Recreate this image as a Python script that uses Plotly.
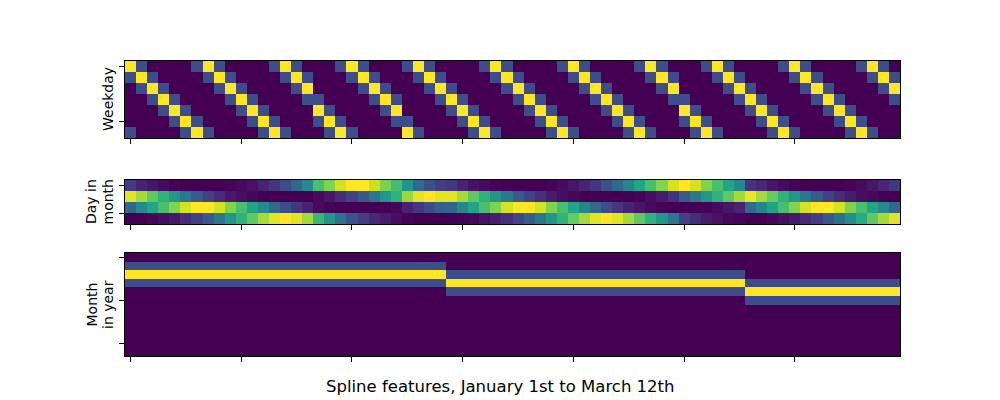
import plotly.graph_objects as go

# ---------------- data ----------------
n_cols = 70
col_index = list(range(n_cols))

# Weekday spline features (7 rows, 1 = strongest, 0.25 = neighbour, 0 = none)
wd0 = [1,.25,0,0,0,0,.25, 1,.25,0,0,0,0,.25, 1,.25,0,0,0,.25, 1,.25,0,0,0,.25,
       1,.25,0,0,0,0,.25, 1,.25,0,0,0,0,.25, 1,.25,0,0,0,0,.25, 1,.25,0,0,0,.25,
       1,.25,0,0,0,0,.25, 1,.25,0,0,0,0,.25, 1,.25,0]
wd1 = [.25,1,.25,0,0,0,0, .25,1,.25,0,0,0,0, .25,1,.25,0,0,0, .25,1,.25,0,0,0,
       .25,1,.25,0,0,0,0, .25,1,.25,0,0,0,0, .25,1,.25,0,0,0,0, .25,1,.25,0,0,0,
       .25,1,.25,0,0,0,0, .25,1,.25,0,0,0,0, .25,1,.25]
wd2 = [0,.25,1,.25,0,0,0, 0,.25,1,.25,0,0,0, 0,.25,1,0,0,0, 0,.25,1,.25,0,0,
       0,.25,1,.25,0,0,0, 0,.25,1,.25,0,0,0, 0,.25,1,.25,0,0,0, 0,.25,1,0,0,0,
       0,.25,1,.25,0,0,0, 0,.25,1,.25,0,0,0, 0,.25,1]
wd3 = [0,0,.25,1,.25,0,0, 0,0,.25,1,.25,0,0, 0,0,.25,.25,0,0, 0,0,.25,1,.25,0,
       0,0,.25,1,.25,0,0, 0,0,.25,1,.25,0,0, 0,0,.25,1,.25,0,0, 0,0,.25,.25,0,0,
       0,0,.25,1,.25,0,0, 0,0,.25,1,.25,0,0, 0,0,.25]
wd4 = [0,0,0,.25,1,.25,0, 0,0,0,.25,1,.25,0, 0,0,0,1,.25,0, 0,0,0,.25,1,0,
       0,0,0,.25,1,.25,0, 0,0,0,.25,1,.25,0, 0,0,0,.25,1,.25,0, 0,0,0,1,.25,0,
       0,0,0,.25,1,.25,0, 0,0,0,.25,1,.25,0, 0,0,0]
wd5 = [0,0,0,0,.25,1,.25, 0,0,0,0,.25,1,.25, 0,0,0,.25,1,.25, 0,0,0,0,.25,.25,
       0,0,0,0,.25,1,.25, 0,0,0,0,.25,1,.25, 0,0,0,0,.25,1,.25, 0,0,0,.25,1,.25,
       0,0,0,0,.25,1,.25, 0,0,0,0,.25,1,.25, 0,0,0]
wd6 = [.25,0,0,0,0,.25,1, .25,0,0,0,0,.25,1, .25,0,0,0,.25,1, .25,0,0,0,0,1,
       .25,0,0,0,0,.25,1, .25,0,0,0,0,.25,1, .25,0,0,0,0,.25,1, .25,0,0,0,.25,1,
       .25,0,0,0,0,.25,1, .25,0,0,0,0,.25,1, .25,0,0]
weekday_rows = [wd0, wd1, wd2, wd3, wd4, wd5, wd6]

# Day-in-month spline features (4 rows, relative intensity 0..1)
dm0 = [0.18,0.10,0.06,0.03,0.01,0.00,0.00,0.00,0.00,0.01,0.03,0.05,0.10,0.16,0.25,0.36,0.50,0.75,0.86,0.95,
       1.00,1.00,0.94,0.85,0.74,0.55,0.37,0.26,0.19,
       0.17,0.10,0.05,0.03,0.01,0.00,0.00,0.00,0.00,0.01,0.03,0.06,0.10,0.17,0.26,0.36,0.48,0.62,0.75,0.86,
       0.95,1.00,0.95,0.86,0.75,0.62,0.50,
       0.17,0.11,0.06,0.03,0.01,0.00,0.00,0.00,0.00,0.01,0.03,0.06,0.11,0.17]
dm1 = [0.97,0.90,0.80,0.69,0.56,0.42,0.30,0.20,0.13,0.07,0.04,0.02,0.00,0.00,0.00,0.00,0.00,0.03,0.07,0.13,
       0.20,0.29,0.41,0.56,0.69,0.89,0.97,1.00,0.97,
       0.97,0.90,0.80,0.69,0.56,0.43,0.30,0.21,0.14,0.08,0.04,0.02,0.00,0.00,0.00,0.00,0.00,0.01,0.04,0.08,
       0.14,0.30,0.42,0.56,0.69,0.80,0.90,
       0.98,0.90,0.81,0.69,0.56,0.42,0.30,0.20,0.13,0.08,0.04,0.02,0.00,0.00]
dm2 = [0.36,0.50,0.62,0.75,0.86,0.95,1.00,1.00,0.95,0.86,0.75,0.62,0.50,0.36,0.25,0.17,0.10,0.03,0.01,0.00,
       0.00,0.00,0.00,0.00,0.02,0.10,0.17,0.25,0.32,
       0.34,0.49,0.62,0.75,0.86,0.95,1.00,1.00,0.95,0.86,0.75,0.62,0.49,0.36,0.25,0.17,0.10,0.06,0.03,0.01,
       0.00,0.00,0.00,0.01,0.03,0.06,0.10,
       0.36,0.48,0.61,0.75,0.86,0.95,1.00,1.00,0.95,0.86,0.75,0.62,0.50,0.36]
dm3 = [0.00,0.00,0.02,0.04,0.07,0.13,0.20,0.30,0.42,0.56,0.69,0.80,0.90,0.97,1.00,0.97,0.90,0.71,0.56,0.41,
       0.28,0.19,0.12,0.08,0.04,0.01,0.00,0.00,0.00,
       0.00,0.01,0.02,0.05,0.09,0.14,0.22,0.31,0.43,0.56,0.69,0.81,0.90,0.97,1.00,0.97,0.90,0.80,0.69,0.56,
       0.42,0.20,0.13,0.08,0.05,0.02,0.01,
       0.00,0.00,0.02,0.04,0.07,0.12,0.19,0.29,0.40,0.53,0.66,0.80,0.90,0.97]
day_month_rows = [dm0, dm1, dm2, dm3]

# Month-in-year spline features (12 rows), columns per month and profile per month
month_col_counts = [29, 27, 14]          # Jan, Feb, Mar columns
month_profiles = [
    [0, .25, 1, .25, 0, 0, 0, 0, 0, 0, 0, 0],   # January
    [0, 0, .25, 1, .25, 0, 0, 0, 0, 0, 0, 0],   # February
    [0, 0, 0, .25, 1, .25, 0, 0, 0, 0, 0, 0],   # March
]

for r in weekday_rows + day_month_rows:
    assert len(r) == n_cols, len(r)

month_rows = []
for k in range(12):
    row = []
    for cnt, prof in zip(month_col_counts, month_profiles):
        row += [prof[k]] * cnt
    month_rows.append(row)

title_text = "Spline features, January 1st to March 12th"
x_ticks = [0, 10, 20, 30, 40, 50, 60]

# ---------------- figure ----------------
W, H = 1000, 400
def px_x(x): return x / W
def px_y(y): return 1 - y / H

panels = [
    # (matrix, rows, y top px, y bottom px, y ticks)
    (weekday_rows, 7, 61, 138, [0, 5]),
    (day_month_rows, 4, 180, 224, [0, 2.5]),
    (month_rows, 12, 253, 356, [0, 5, 10]),
]

viridis = [
    [0.0, "#440154"], [0.0667, "#48186a"], [0.1333, "#472d7b"], [0.2, "#424086"],
    [0.2667, "#3b528b"], [0.3333, "#33638d"], [0.4, "#2c728e"], [0.4667, "#26828e"],
    [0.5333, "#21918c"], [0.6, "#1fa088"], [0.6667, "#28ae80"], [0.7333, "#3fbc73"],
    [0.8, "#5ec962"], [0.8667, "#84d44b"], [0.9333, "#addc30"], [1.0, "#fde725"],
]
# slightly better end segment (viridis near the top is yellow-green -> yellow)
viridis[-2] = [0.9333, "#c8e020"]

fig = go.Figure()
layout = dict(
    width=W, height=H,
    margin=dict(l=0, r=0, t=0, b=0),
    paper_bgcolor="white", plot_bgcolor="white",
    showlegend=False,
    font=dict(family="DejaVu Sans", color="black"),
)

for i, (mat, nrows, ytop, ybot, yt) in enumerate(panels):
    sfx = "" if i == 0 else str(i + 1)
    fig.add_trace(go.Heatmap(
        z=mat, x=col_index, y=list(range(nrows)),
        colorscale=viridis, zmin=0, zmax=1, showscale=False,
        xaxis="x" + sfx, yaxis="y" + sfx, hoverinfo="skip",
    ))
    layout["xaxis" + sfx] = dict(
        domain=[px_x(125), px_x(900)], anchor="y" + sfx,
        range=[-0.5, n_cols - 0.5], tickvals=x_ticks, showticklabels=False,
        ticks="outside", ticklen=5, tickwidth=1, tickcolor="black",
        showline=True, mirror=True, linecolor="black", linewidth=1,
        showgrid=False, zeroline=False,
    )
    layout["yaxis" + sfx] = dict(
        domain=[px_y(ybot), px_y(ytop)], anchor="x" + sfx,
        range=[nrows - 0.5, -0.5], tickvals=yt, showticklabels=False,
        ticks="outside", ticklen=5, tickwidth=1, tickcolor="black",
        showline=True, mirror=True, linecolor="black", linewidth=1,
        showgrid=False, zeroline=False,
    )

ann_font = dict(family="DejaVu Sans", size=14, color="black")
labels = [
    ("Weekday", 107.5, 99.5),
    ("Day in", 91.0, 202),
    ("month", 107.5, 202),
    ("Month", 91.0, 304.5),
    ("in year", 107.5, 304.5),
]
annotations = []
for txt, x, y in labels:
    annotations.append(dict(
        text=txt, x=px_x(x), y=px_y(y), xref="paper", yref="paper",
        textangle=-90, showarrow=False, xanchor="center", yanchor="middle",
        font=ann_font,
    ))
annotations.append(dict(
    text=title_text, x=0.5, y=px_y(386), xref="paper", yref="paper",
    showarrow=False, xanchor="center", yanchor="middle",
    font=dict(family="DejaVu Sans", size=16.5, color="black"),
))
layout["annotations"] = annotations

fig.update_layout(**layout)
fig.write_html("out.html")
